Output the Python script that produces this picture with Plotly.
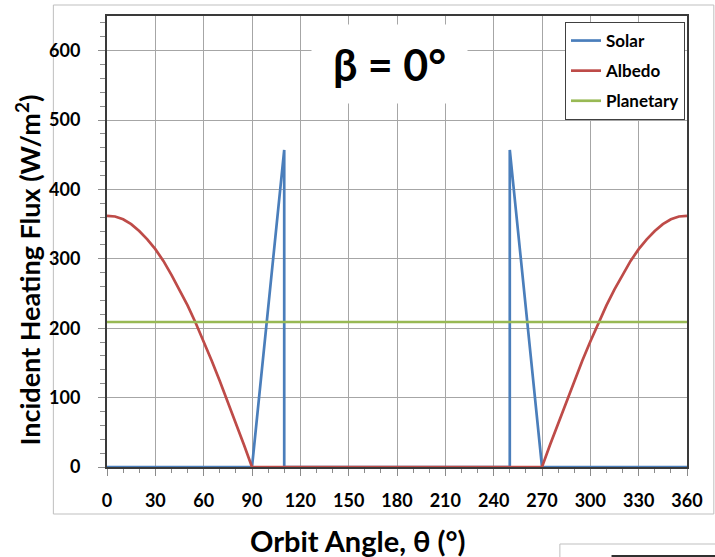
import plotly.graph_objects as go

# Orbit angle grid (degrees) and heating flux components (W/m^2)
solar_angle = [0, 90, 110, 110, 250, 250, 270, 360]
solar_flux = [0, 0, 457, 0, 0, 457, 0, 0]

albedo_angle = [0, 5, 10, 15, 20, 25, 30, 35, 40, 45, 50, 55, 60, 65, 70, 75, 80, 85, 90,
                270, 275, 280, 285, 290, 295, 300, 305, 310, 315, 320, 325, 330, 335, 340,
                345, 350, 355, 360]
albedo_flux = [362, 361, 357, 350, 340, 328, 314, 297, 277, 256, 233, 208, 181, 153, 124,
               94, 63, 32, 0,
               0, 32, 63, 94, 124, 153, 181, 208, 233, 256, 277, 297, 314, 328, 340, 350,
               357, 361, 362]

planetary_angle = [0, 360]
planetary_flux = [209, 209]

x_ticks = [0, 30, 60, 90, 120, 150, 180, 210, 240, 270, 300, 330, 360]
y_ticks = [0, 100, 200, 300, 400, 500, 600]

FONT = "Lato"
W, H = 715, 557
L, R, T, B = 107, 24, 16, 90
PW, PH = W - L - R, H - T - B


def px(xp):
    return (xp - L) / PW


def py(yp):
    return (H - B - yp) / PH


fig = go.Figure()
fig.add_trace(go.Scatter(x=solar_angle, y=solar_flux, mode="lines", name="Solar",
                         legendgroup="s", line=dict(color="#4a7ebb", width=2.7)))
fig.add_trace(go.Scatter(x=albedo_angle, y=albedo_flux, mode="lines", name="Albedo",
                         legendgroup="a", line=dict(color="#be4b48", width=2.7)))
fig.add_trace(go.Scatter(x=planetary_angle, y=planetary_flux, mode="lines", name="Planetary",
                         legendgroup="p", line=dict(color="#98b954", width=2.7)))

axis_common = dict(
    showline=True, linecolor="#3a3a3a", linewidth=2, mirror=True,
    showgrid=True, gridcolor="#a6a6a6", gridwidth=1,
    ticks="outside", ticklen=7, tickcolor="#8c8c8c", tickwidth=1,
    zeroline=False,
    tickfont=dict(family=FONT, size=18, color="black", weight="bold"),
)

fig.update_xaxes(range=[0, 360], tickvals=x_ticks, ticklabelstandoff=9,
                 minor=dict(dtick=10, ticklen=4, tickcolor="#8c8c8c", ticks="outside",
                            showgrid=False),
                 **axis_common)
fig.update_yaxes(range=[0, 650], tickvals=y_ticks, ticklabelstandoff=14,
                 minor=dict(dtick=20, ticklen=5, tickcolor="#8c8c8c", ticks="outside",
                            showgrid=False),
                 **axis_common)

fig.update_layout(
    width=W, height=H,
    margin=dict(l=L, r=R, t=T, b=B),
    paper_bgcolor="white", plot_bgcolor="white",
    showlegend=True,
    legend=dict(
        x=px(689), y=py(22), xanchor="right", yanchor="top",
        bgcolor="white", bordercolor="#404040", borderwidth=1,
        font=dict(family=FONT, size=17, color="black", weight="bold"),
        tracegroupgap=5, itemwidth=30,
    ),
    shapes=[
        # outer chart frame
        dict(type="rect", xref="paper", yref="paper", x0=px(53), x1=px(718),
             y0=py(514), y1=py(5), line=dict(color="#bfbfbf", width=1), layer="below"),
        # neighbouring frame peeking in at the lower right
        dict(type="rect", xref="paper", yref="paper", x0=px(563), x1=px(720),
             y0=py(562), y1=py(544), line=dict(color="#bfbfbf", width=1), layer="below"),
        dict(type="line", xref="paper", yref="paper", x0=px(615), x1=px(720),
             y0=py(556), y1=py(556), line=dict(color="#303030", width=2)),
    ],
    annotations=[
        dict(text="β = 0°", xref="paper", yref="paper", x=px(391.5), y=py(64),
             xanchor="center", yanchor="middle", showarrow=False,
             width=155, height=78, bgcolor="white", borderpad=0,
             font=dict(family=FONT, size=43, color="black", weight="bold")),
        dict(text="Incident Heating Flux (W/m<sup>2</sup>)", xref="paper", yref="paper",
             x=px(27), y=py(270), xanchor="center", yanchor="middle", textangle=-90,
             showarrow=False,
             font=dict(family=FONT, size=27, color="black", weight="bold")),
        dict(text="Orbit Angle, θ (°)", xref="paper", yref="paper",
             x=px(359), y=py(540), xanchor="center", yanchor="middle", showarrow=False,
             font=dict(family=FONT, size=29, color="black", weight="bold")),
    ],
)

fig.write_html("out.html")
